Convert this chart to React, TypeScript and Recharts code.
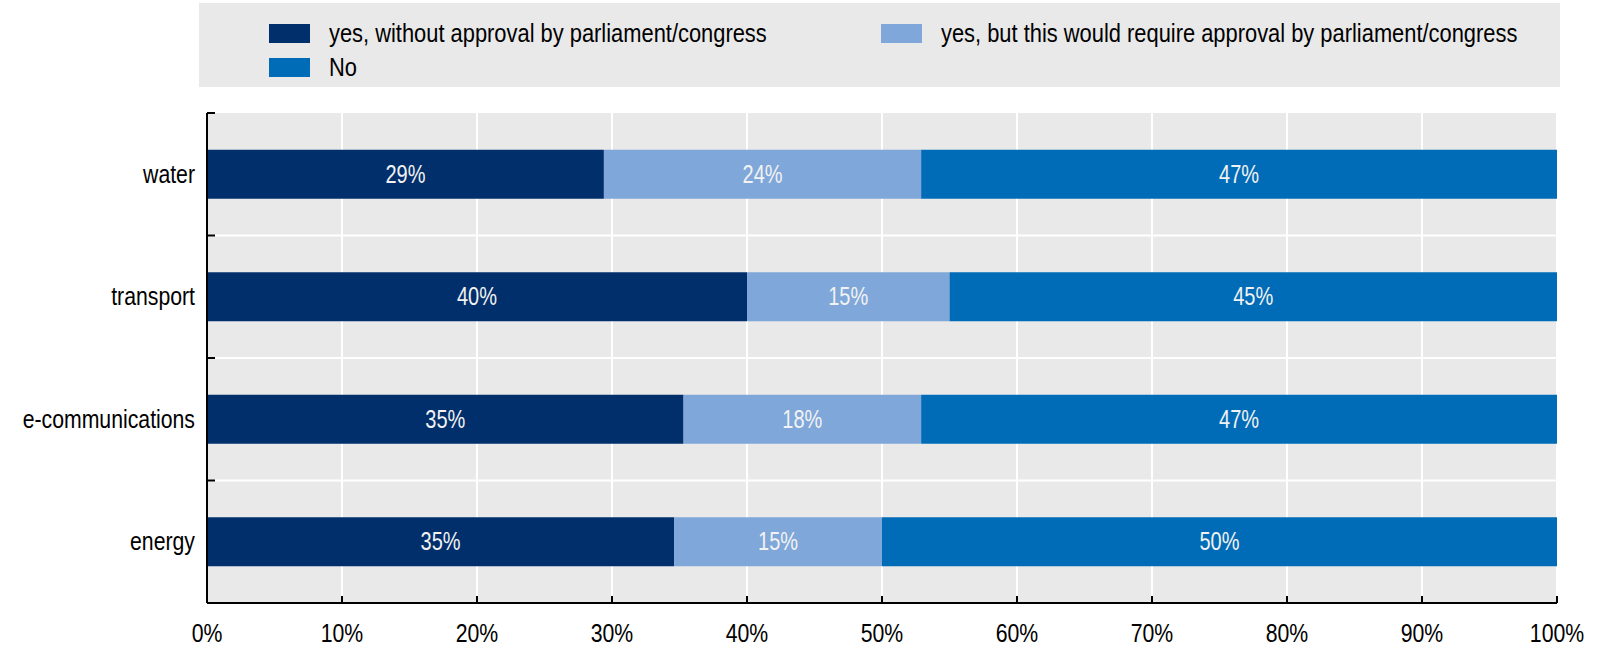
import { Bar, BarChart, CartesianGrid, LabelList, XAxis, YAxis } from "recharts";

const CATEGORIES = ["water", "transport", "e-communications", "energy"];
const WITHOUT_APPROVAL = [29.4, 40, 35.3, 34.6];
const WITH_APPROVAL = [23.5, 15, 17.6, 15.4];
const NO_SHARE = [47.1, 45, 47.1, 50];
const X_TICKS = [0, 10, 20, 30, 40, 50, 60, 70, 80, 90, 100];

const SERIES = [
	{ key: "without", name: "yes, without approval by parliament/congress", color: "#002F6C", values: WITHOUT_APPROVAL },
	{ key: "with", name: "yes, but this would require approval by parliament/congress", color: "#7FA7D9", values: WITH_APPROVAL },
	{ key: "no", name: "No", color: "#006BB7", values: NO_SHARE },
];

// no narrow font installed, so squeeze Liberation Sans horizontally
const FONT = "'Liberation Sans', Arial, sans-serif";
const SQUEEZE = 0.85;
const LEGEND_SQUEEZE = 0.875;
const LABEL_SQUEEZE = 0.8;
const WIDTH = 1614;
const HEIGHT = 649;
const MARGIN = { top: 113, right: 57, bottom: 0, left: 7 };
const Y_AXIS_WIDTH = 200;
const X_AXIS_HEIGHT = 46;
const PLOT_HEIGHT = HEIGHT - MARGIN.top - MARGIN.bottom - X_AXIS_HEIGHT;
const BAND = PLOT_HEIGHT / CATEGORIES.length;
const X_TICK_MARGIN = 21;
const Y_TICK_MARGIN = 12;
const GREY = "#E9E9E9";

const data = CATEGORIES.map((name, i) => {
	const row: Record<string, string | number> = { name };
	for (const s of SERIES) row[s.key] = s.values[i];
	return row;
});

function CategoryTick(props: any) {
	const { x, y, payload, index } = props;
	const ax = x + Y_TICK_MARGIN;
	return (
		<g>
			<line x1={ax} x2={ax + 8} y1={y - BAND / 2} y2={y - BAND / 2} stroke="#000" strokeWidth={2} />
			{index === CATEGORIES.length - 1 && (
				<line x1={ax} x2={ax + 8} y1={y + BAND / 2} y2={y + BAND / 2} stroke="#000" strokeWidth={2} />
			)}
			<text
				transform={`translate(${x} ${y}) scale(${SQUEEZE} 1)`}
				textAnchor="end"
				dominantBaseline="central"
				fontSize={25}
				fill="#000"
			>
				{payload.value}
			</text>
		</g>
	);
}

function PercentTick(props: any) {
	const { x, y, payload } = props;
	const axisY = y - X_TICK_MARGIN;
	return (
		<g>
			<line x1={x} x2={x} y1={axisY} y2={axisY - 7} stroke="#000" strokeWidth={2} />
			<text
				transform={`translate(${x} ${y}) scale(${SQUEEZE} 1)`}
				dy="0.71em"
				textAnchor="middle"
				fontSize={25}
				fill="#000"
			>
				{`${payload.value}%`}
			</text>
		</g>
	);
}

function BarValue(props: any) {
	const { x, y, width, height, value } = props;
	const cx = Number(x) + Number(width) / 2;
	const cy = Number(y) + Number(height) / 2;
	return (
		<text
			transform={`translate(${cx} ${cy}) scale(${LABEL_SQUEEZE} 1)`}
			textAnchor="middle"
			dominantBaseline="central"
			fontSize={25}
			fill="#F2F2F2"
		>
			{`${Math.round(Number(value))}%`}
		</text>
	);
}

function LegendBox() {
	return (
		<div
			style={{
				position: "absolute",
				left: 199,
				top: 3,
				width: 1361,
				height: 84,
				background: GREY,
				boxSizing: "border-box",
				paddingLeft: 70,
				paddingTop: 13,
				display: "grid",
				gridTemplateColumns: "612px auto",
				gridAutoRows: "34px",
				fontSize: 25,
				color: "#000",
			}}
		>
			{SERIES.map((s) => (
				<div key={s.key} style={{ display: "flex", alignItems: "center" }}>
					<span style={{ width: 41, height: 19, background: s.color, marginRight: 19, flexShrink: 0 }} />
					<span
						style={{
							whiteSpace: "nowrap",
							display: "inline-block",
							transform: `scaleX(${LEGEND_SQUEEZE})`,
							transformOrigin: "left center",
						}}
					>
						{s.name}
					</span>
				</div>
			))}
		</div>
	);
}

export default function App() {
	return (
		<div style={{ position: "absolute", left: 0, top: 0, width: WIDTH, height: HEIGHT, fontFamily: FONT, background: "#fff" }}>
			<LegendBox />
			<BarChart
				width={WIDTH}
				height={HEIGHT}
				data={data}
				layout="vertical"
				margin={MARGIN}
				barCategoryGap="30%"
			>
				<CartesianGrid
					fill={GREY}
					stroke="#fff"
					strokeWidth={2}
					horizontalCoordinatesGenerator={(p: any) => {
						const top = p?.offset?.top ?? MARGIN.top;
						const h = p?.offset?.height ?? PLOT_HEIGHT;
						return CATEGORIES.map((_, i) => top + (i * h) / CATEGORIES.length).slice(1);
					}}
				/>
				<XAxis
					type="number"
					domain={[0, 100]}
					ticks={X_TICKS}
					height={X_AXIS_HEIGHT}
					tickSize={0}
					tickMargin={X_TICK_MARGIN}
					tickLine={false}
					axisLine={{ stroke: "#000", strokeWidth: 2 }}
					tick={<PercentTick />}
					interval={0}
				/>
				<YAxis
					type="category"
					dataKey="name"
					width={Y_AXIS_WIDTH}
					tickSize={0}
					tickMargin={Y_TICK_MARGIN}
					tickLine={false}
					axisLine={{ stroke: "#000", strokeWidth: 2 }}
					tick={<CategoryTick />}
					interval={0}
				/>
				{SERIES.map((s) => (
					<Bar key={s.key} dataKey={s.key} name={s.name} stackId="a" fill={s.color} isAnimationActive={false}>
						<LabelList dataKey={s.key} content={<BarValue />} />
					</Bar>
				))}
			</BarChart>
		</div>
	);
}
